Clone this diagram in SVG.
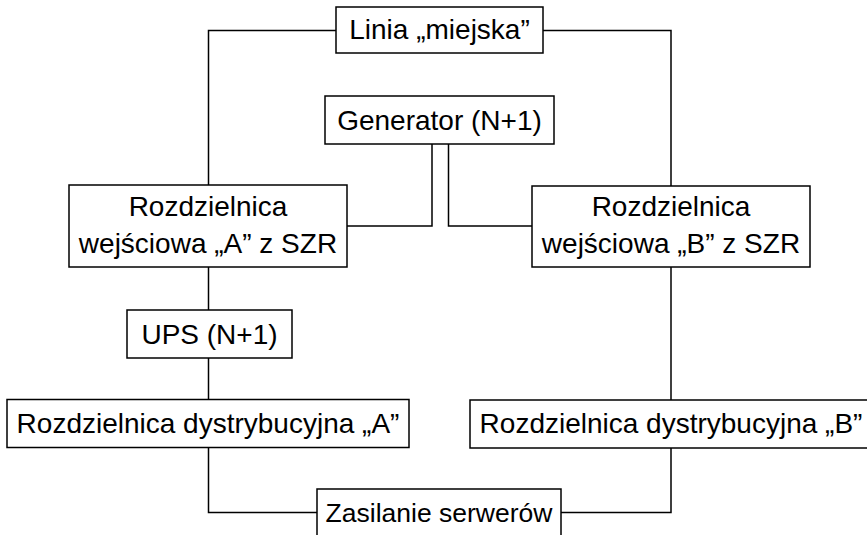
<svg xmlns="http://www.w3.org/2000/svg" width="867" height="535" viewBox="0 0 867 535">
<style>
.box{fill:#fff;stroke:#000;stroke-width:1.5}
.lbl{font-family:"Liberation Sans",Arial,sans-serif;font-size:28px;fill:#000;text-anchor:middle}
.wire{fill:none;stroke:#000;stroke-width:1.5}
</style>
<rect width="867" height="535" fill="#fff"/>
<g id="connectors">
<path class="wire" d="M336,30.5 H208.5 V185"/>
<path class="wire" d="M543,30.5 H671 V186"/>
<path class="wire" d="M432,144 V226 H347"/>
<path class="wire" d="M448.5,144 V226 H532"/>
<path class="wire" d="M208.5,267 V310"/>
<path class="wire" d="M208.5,358 V399"/>
<path class="wire" d="M208.5,447 V512.5 H317"/>
<path class="wire" d="M671,267 V400"/>
<path class="wire" d="M671,448 V512.5 H561"/>
</g>
<g id="linia">
<rect class="box" x="336" y="7" width="207" height="46"/>
<text class="lbl" x="439.5" y="39">Linia „miejska”</text>
</g>
<g id="generator">
<rect class="box" x="325" y="96" width="229" height="48"/>
<text class="lbl" x="439.5" y="130">Generator (N+1)</text>
</g>
<g id="rozdz-a">
<rect class="box" x="69" y="185" width="278" height="82"/>
<text class="lbl" x="208" y="216">Rozdzielnica</text>
<text class="lbl" x="208" y="253">wejściowa „A” z SZR</text>
</g>
<g id="rozdz-b">
<rect class="box" x="532" y="186" width="278" height="81"/>
<text class="lbl" x="671" y="216">Rozdzielnica</text>
<text class="lbl" x="671" y="253">wejściowa „B” z SZR</text>
</g>
<g id="ups">
<rect class="box" x="127" y="310" width="165" height="48"/>
<text class="lbl" x="209.5" y="344">UPS (N+1)</text>
</g>
<g id="dyst-a">
<rect class="box" x="7" y="399.5" width="402" height="48"/>
<text class="lbl" x="208" y="433">Rozdzielnica dystrybucyjna „A”</text>
</g>
<g id="dyst-b">
<rect class="box" x="470" y="400" width="402" height="48"/>
<text class="lbl" x="671" y="433">Rozdzielnica dystrybucyjna „B”</text>
</g>
<g id="zasilanie">
<rect class="box" x="317" y="489" width="244" height="50"/>
<text class="lbl" x="439" y="522" style="font-size:26.5px">Zasilanie serwerów</text>
</g>
</svg>
